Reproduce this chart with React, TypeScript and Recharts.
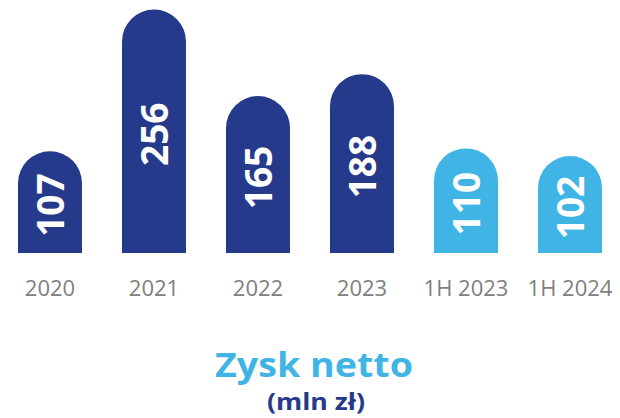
import React from 'react';
import { BarChart, Bar, XAxis, YAxis, Cell, LabelList } from 'recharts';

const categories = ['2020', '2021', '2022', '2023', '1H 2023', '1H 2024'];
const netProfit = [107, 256, 165, 188, 110, 102];
const isHalfYear = [false, false, false, false, true, true];

const DARK = '#263a8c';
const LIGHT = '#3fb4e5';
const FONT = "'Open Sans', sans-serif";

const data = categories.map((name, i) => ({ name, value: netProfit[i], half: isHalfYear[i] }));

// white value written bottom-to-top, roughly in the middle of the bar
const ValueLabel = (props: any) => {
  const { x, y, width, height, value } = props;
  const cx = x + width / 2;
  const cy = y + height / 2 + 3;
  return (
    <text
      x={cx}
      y={cy}
      transform={`rotate(-90, ${cx}, ${cy})`}
      textAnchor="middle"
      dominantBaseline="central"
      fill="#fff"
      fontSize={37}
      fontWeight={700}
      fontFamily={FONT}
    >
      {value}
    </text>
  );
};

export default function App() {
  return (
    <div style={{ position: 'relative', width: 620, height: 418, background: '#fff' }}>
      <style>{'body{margin:0}'}</style>
      <BarChart
        width={620}
        height={310}
        data={data}
        margin={{ top: 0, right: 0, left: 0, bottom: 0 }}
        barSize={64}
      >
        <XAxis
          dataKey="name"
          axisLine={false}
          tickLine={false}
          height={57}
          tickMargin={21}
          padding={{ left: -2, right: -2 }}
          interval={0}
          tick={{ fill: '#808080', fontSize: 22, fontFamily: FONT }}
        />
        <YAxis hide domain={[0, 266]} />
        <Bar dataKey="value" radius={[32, 32, 0, 0]} isAnimationActive={false}>
          {data.map((d) => (
            <Cell key={`bar-${d.name}`} fill={d.half ? LIGHT : DARK} />
          ))}
          <LabelList dataKey="value" content={<ValueLabel />} />
        </Bar>
      </BarChart>
      <svg
        width={620}
        height={418}
        style={{ position: 'absolute', left: 0, top: 0, pointerEvents: 'none' }}
      >
        <text
          x={314}
          y={377}
          textAnchor="middle"
          fontFamily={FONT}
          fontWeight={700}
          fontSize={34}
          fill={LIGHT}
          textLength={198}
          lengthAdjust="spacingAndGlyphs"
        >
          Zysk netto
        </text>
        <text
          x={316}
          y={410}
          textAnchor="middle"
          fontFamily={FONT}
          fontWeight={700}
          fontSize={24}
          fill={DARK}
          textLength={98}
          lengthAdjust="spacingAndGlyphs"
        >
          (mln zł)
        </text>
      </svg>
    </div>
  );
}
